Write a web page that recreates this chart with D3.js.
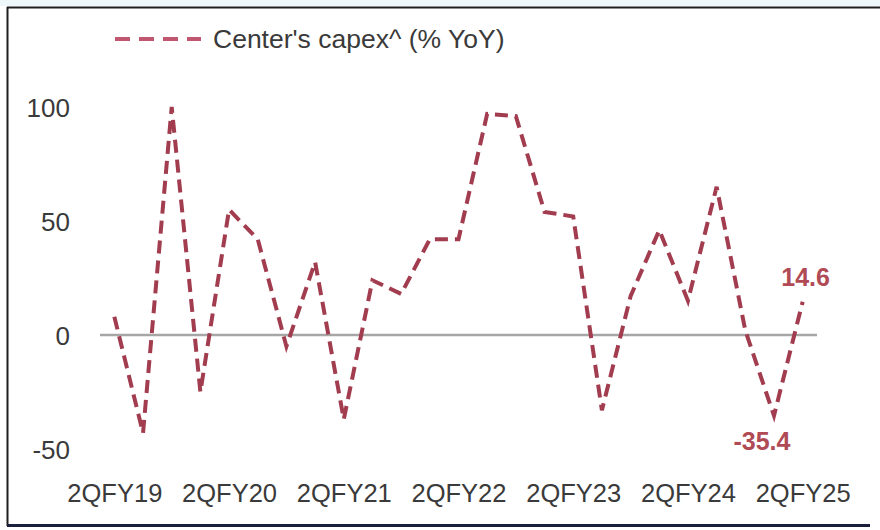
<!DOCTYPE html>
<html>
<head>
<meta charset="utf-8">
<script src="https://cdn.jsdelivr.net/npm/d3@7/dist/d3.min.js"></script>
<style>
  html, body { margin: 0; padding: 0; background: #ffffff; }
  svg { display: block; }
  text { font-family: "Liberation Sans", Arial, sans-serif; }
</style>
</head>
<body>
<svg id="chart" width="880" height="530"></svg>
<script>
// Quarterly series: Centre's capital expenditure, % YoY
const quarters = [
  "2QFY19", "3QFY19", "4QFY19", "1QFY20",
  "2QFY20", "3QFY20", "4QFY20", "1QFY21",
  "2QFY21", "3QFY21", "4QFY21", "1QFY22",
  "2QFY22", "3QFY22", "4QFY22", "1QFY23",
  "2QFY23", "3QFY23", "4QFY23", "1QFY24",
  "2QFY24", "3QFY24", "4QFY24", "1QFY25",
  "2QFY25"
];
const capexYoY = [
  8, -43, 100, -25,
  55, 42, -5, 32,
  -37, 24, 18, 42,
  42, 97, 96, 54,
  52, -33, 17, 46,
  15, 65, 2, -35.4,
  14.6
];
const xTickLabels = ["2QFY19", "2QFY20", "2QFY21", "2QFY22", "2QFY23", "2QFY24", "2QFY25"];
const yTickValues = [-50, 0, 50, 100];
const seriesName = "Center's capex^ (% YoY)";
const labelledQuarters = ["1QFY25", "2QFY25"];

const svg = d3.select("#chart");
const lineColor = "#a23c4f";
const labelColor = "#b04a55";
const textColor = "#3a3a3a";

// Plain hyphen-minus for negative numbers
const fmtInt = d => String(d);
const fmtOne = d => d.toFixed(1);

// Frame
svg.append("rect").attr("x", 0).attr("y", 0).attr("width", 880).attr("height", 6).attr("fill", "#eef7f9");
svg.append("line").attr("x1", 7).attr("x2", 880).attr("y1", 7.5).attr("y2", 7.5)
  .attr("stroke", "#1e1e1e").attr("stroke-width", 2);
svg.append("line").attr("x1", 7.5).attr("x2", 7.5).attr("y1", 7).attr("y2", 526)
  .attr("stroke", "#1e1e1e").attr("stroke-width", 2);
svg.append("line").attr("x1", 7).attr("x2", 870).attr("y1", 525.5).attr("y2", 525.5)
  .attr("stroke", "#1c1f3c").attr("stroke-width", 3);

// Scales
const x = d3.scalePoint().domain(quarters).range([100, 817]).padding(0.5);
const y = d3.scaleLinear().domain([-50, 100]).range([449, 107]);

// Y axis labels (no axis line)
const yAxis = d3.axisLeft(y).tickValues(yTickValues).tickSize(0).tickPadding(0).tickFormat(fmtInt);
const gy = svg.append("g").attr("transform", "translate(70,0)").call(yAxis);
gy.select(".domain").remove();
gy.selectAll("text").attr("fill", textColor).style("font-size", "26px")
  .attr("dy", "0.35em");

// X axis labels, every fourth quarter
const xAxis = d3.axisBottom(x).tickValues(xTickLabels).tickSize(0).tickPadding(0);
const gx = svg.append("g").attr("transform", "translate(0,484)").call(xAxis);
gx.select(".domain").remove();
gx.selectAll("text").attr("fill", textColor).style("font-size", "25.5px").attr("dy", "0.71em");

// Zero line
svg.append("line")
  .attr("x1", 100).attr("x2", 817)
  .attr("y1", y(0)).attr("y2", y(0))
  .attr("stroke", "#a6a6a6").attr("stroke-width", 2.5);

// Dashed series line
const line = d3.line().x((d, i) => x(quarters[i])).y(d => y(d));
svg.append("path")
  .datum(capexYoY)
  .attr("d", line)
  .attr("fill", "none")
  .attr("stroke", lineColor)
  .attr("stroke-width", 4)
  .attr("stroke-dasharray", "13,7")
  .attr("stroke-linejoin", "miter");

// Value labels on the last two points
const labelOffsets = { "1QFY25": [-12, 26], "2QFY25": [3, -24] };
labelledQuarters.forEach(q => {
  const i = quarters.indexOf(q);
  const v = capexYoY[i];
  const [dx, dy] = labelOffsets[q];
  svg.append("text")
    .attr("x", x(q) + dx)
    .attr("y", y(v) + dy)
    .attr("text-anchor", "middle")
    .attr("dy", "0.35em")
    .attr("fill", labelColor)
    .style("font-size", "25px")
    .style("font-weight", "bold")
    .text(fmtOne(v));
});

// Legend
const lg = svg.append("g").attr("transform", "translate(115,39)");
lg.append("line").attr("x1", 0).attr("x2", 86).attr("y1", 0).attr("y2", 0)
  .attr("stroke", "#c05670").attr("stroke-width", 4).attr("stroke-dasharray", "15,9");
lg.append("text").attr("x", 98).attr("y", 0).attr("dy", "0.35em")
  .attr("fill", textColor).style("font-size", "26.5px").text(seriesName);
</script>
</body>
</html>
